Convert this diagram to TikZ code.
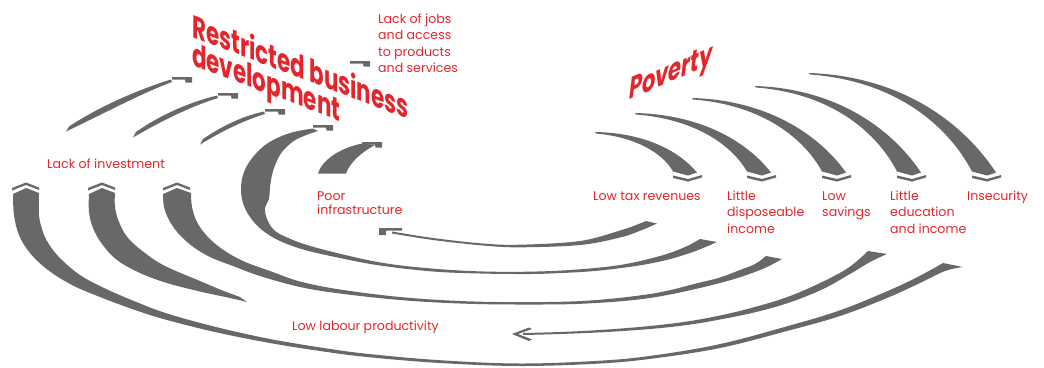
\documentclass[tikz,border=0pt]{standalone}
\usepackage{fontspec}
\setmainfont{Poppins}
\newfontfamily\labelfont{Poppins}
\newfontfamily\titlefont{Poppins Bold}[FakeStretch=0.67]
\newfontfamily\povertyfont{Poppins Bold Italic}[FakeStretch=0.70]
\definecolor{labred}{RGB}{228,38,44}
\definecolor{ribgray}{RGB}{104,104,104}

\tikzset{
  rib/.style={fill=ribgray},
  lab/.style={text=labred, font=\labelfont\fontsize{12.6}{16.5}\selectfont,
    align=left, anchor=base west, inner sep=0pt},
  title/.style={text=labred, font=\titlefont\fontsize{32}{28}\selectfont,
    align=left, anchor=base west, inner sep=0pt},
  % arrow heads
  barhead/.pic={\fill[ribgray] (0,0) -- (20,0) -- (20,5.5) -- (13.5,5.5) -- (13,2.5) -- (0,2.5) -- cycle;},
  hookhead/.pic={\fill[ribgray] (0,0) -- (23,0) -- (23,2.5) -- (7,2.5) -- (7,7) -- (0,7) -- cycle;},
  upchev/.pic={\fill[ribgray] (-14,5.5) -- (0,0) -- (13,5) -- (13,7.5) -- (0,2.5) -- (-14,8) -- cycle;},
  downchev/.pic={\fill[ribgray] (-15,-6) -- (0,-2.5) -- (14,-6.5) -- (14,-4) -- (0,0) -- (-15,-3.5) -- cycle;},
  leftchev/.pic={\fill[ribgray] (0,0) -- (17,-6.5) -- (20,-5) -- (6,0) -- (20,5.5) -- (17,7) -- cycle;}
}

\begin{document}
\begin{tikzpicture}[x=1pt,y=-1pt]
\useasboundingbox (0,0) rectangle (1044,367);
\fill[white] (0,0) rectangle (1044,367);

% ---- labels (anchored at the baseline of their last line) ----
\node[lab] (jobs) at (378,72.5) {Lack of jobs\\and access\\to products\\and services};
\node[lab] (invest) at (47,168) {Lack of investment};
\node[lab, font=\labelfont\fontsize{12.6}{14.5}\selectfont] (infra) at (317,214.5) {Poor\\infrastructure};
\node[lab] (tax) at (593,200) {Low tax revenues};
\node[lab] (income) at (727,233) {Little\\disposeable\\income};
\node[lab] (savings) at (822,216.5) {Low\\savings};
\node[lab] (educ) at (890,233) {Little\\education\\and income};
\node[lab] (insec) at (967,200) {Insecurity};
\node[lab] (labour) at (292,330) {Low labour productivity};

\begin{scope}[shift={(192,65)}, yslant=-0.38]
  \node[title, transform shape] (rbd) at (0,0) {Restricted business\\development};
\end{scope}
\begin{scope}[shift={(629,100)}, yslant=0.43]
  \node[title, font=\povertyfont\fontsize{30}{30}\selectfont, transform shape] (pov) at (0,0) {Poverty};
\end{scope}

% ---- Poverty -> outcomes ----
\foreach \tx/\ty/\c in {595/132/688, 635/113/762, 692/98/837, 755/86/912, 809/73/987}{
  \pgfmathsetmacro\rdx{\c-\tx}
  \pgfmathsetmacro\rdy{174-\ty}
  \fill[rib] (\tx,\ty) .. controls ({\tx+0.5*\rdx},{\ty+0.04*\rdy-1}) and ({\c-0.18*\rdx+6},{\ty+0.5*\rdy-4}) .. ({\c+9},172.5)
     -- (\c,175.5) -- ({\c-15},171.5)
     .. controls ({\c-0.18*\rdx-6},{\ty+0.5*\rdy+4}) and ({\tx+0.5*\rdx},{\ty+0.04*\rdy+4}) .. ({\tx+1},{\ty+1.5}) -- cycle;
  \pic at (\c,181.5) {downchev};
}

% ---- Lack of investment -> Restricted business development ----
\fill[rib] (69,126.5) .. controls (100,106) and (140,89) .. (171,79.5) -- (172,82) .. controls (142,93) and (103,114) .. (66,131.5) -- cycle;
\pic at (172,77) {barhead};
\fill[rib] (136,132) .. controls (160,115) and (190,102) .. (217,95.5) -- (218,98) .. controls (192,106) and (163,120) .. (133,137.5) -- cycle;
\pic at (218,93) {barhead};
\fill[rib] (203,139) .. controls (222,126) and (243,116) .. (264,111.5) -- (265,114) .. controls (245,120) and (224,130) .. (200,144.5) -- cycle;
\pic at (265,109) {barhead};

% ---- Poor infrastructure -> Restricted business development ----
\fill[rib] (318,173.5) .. controls (322,160) and (340,148) .. (362,143.5) -- (375,145) .. controls (362,152) and (350,162) .. (346,173.5) -- cycle;
\pic at (362,142) {barhead};

% ---- Restricted business development -> Lack of jobs ----
\pic at (350,61) {barhead};

% ---- Low tax revenues -> Poor infrastructure ----
\fill[rib] plot[smooth, tension=0.6] coordinates {(657,223.5) (642,230) (620,237.5) (580,245) (520,247.3) (483,245.5) (433,240) (392,233.5)}
  -- plot[smooth, tension=0.6] coordinates {(392,231.5) (433,238) (483,243.5) (520,244.7) (580,241) (620,230.5) (640,223.5) (646,221)} -- cycle;
\pic at (379,228) {hookhead};

% ---- Little disposeable income -> Restricted business development ----
\fill[rib] plot[smooth, tension=0.6] coordinates {(717,242) (690,253) (653,263) (600,270.5) (550,273.5) (520,274) (480,273.5) (433,271.5) (380,265.5) (340,258) (305,250) (280,241) (262,230) (250,217) (243,203) (241,188) (244,172) (253,157) (268,143) (290,133) (313,128.5)}
  -- plot[smooth, tension=0.6] coordinates {(318,131) (305,135.5) (293,141.5) (282,152) (276,163) (272,175) (270,188) (269,199) (265,208) (267,219) (274,230) (286,237) (307,245) (341,254) (380.5,262.5) (420,267.5) (470,271) (520,271.8) (570,270) (620,265) (660,256) (685,247) (700,239)} -- cycle;
\pic at (313,125) {barhead};

% ---- Low savings -> Lack of investment ----
\fill[rib] plot[smooth, tension=0.6] coordinates {(163,194) (164,207) (169,220) (178,233) (192,246) (210,257) (233,266) (260,276) (300,287) (340,293.5) (400,300) (460,303.5) (520,304.5) (587,303.5) (653,297.5) (720,283) (760,270) (782,259)}
  -- plot[smooth, tension=0.6] coordinates {(766,256) (755,264) (740,270) (720,277.5) (700,282.5) (653,293.5) (587,300.7) (520,302.1) (460,301) (400,297) (340,289.5) (300,281.5) (270,271) (243,261) (222,249) (207,236) (197,222) (192,207) (191,193)}
  -- (177,188) -- cycle;
\pic at (177,182.5) {upchev};

% ---- Little education and income -> Low labour productivity ----
\fill[rib] plot[smooth, tension=0.6] coordinates {(887,254) (870,262) (850,274) (822,289.5) (788,303) (754,312.5) (720,319.5) (687,325) (650,329) (603,332.2) (560,334) (523,335)}
  -- plot[smooth, tension=0.6] coordinates {(523,333) (560,332) (603,329.8) (650,326) (687,321.5) (720,315.5) (753,307.5) (786,297.5) (818,284) (848,268) (868,251)} -- cycle;
\pic at (512,334) {leftchev};

% ---- Low labour productivity -> Lack of investment ----
\fill[rib] plot[smooth, tension=0.6] coordinates {(89,194) (89,212) (93,228) (102,244) (117,260) (140,273) (167,283) (200,291.5) (230,298) (247,302)}
  -- plot[smooth, tension=0.6] coordinates {(240,297) (220,289.5) (200,281) (165,266) (145,253) (128,238) (119,222) (115,207) (115,193)}
  -- (102,188) -- cycle;
\pic at (102,182.5) {upchev};

% ---- Insecurity -> Lack of investment ----
\fill[rib] plot[smooth, tension=0.6] coordinates {(13,194) (14,215) (19,235) (30,253) (48,270) (72,285) (100,297) (135,310) (167,320) (215,332) (267,342.5) (320,351) (367,357) (440,363) (520,366) (600,363.5) (653,358.5) (720,348) (787,331) (840,316) (887,298) (920,283) (945,271) (963,267)}
  -- plot[smooth, tension=0.6] coordinates {(943,263) (916.4,277.6) (884,292.6) (838,311) (785.6,326.7) (719.4,344.2) (653,355.5) (600,360.7) (520,363.5) (440,360.2) (367,353.8) (320.5,347.5) (268,338.6) (216,327) (168.7,314) (137.6,302.5) (104,288) (78.5,274) (58,256) (47,241) (42,229) (39,215) (39,193)}
  -- (26,188) -- cycle;
\pic at (26,182.5) {upchev};

\end{tikzpicture}
\end{document}
